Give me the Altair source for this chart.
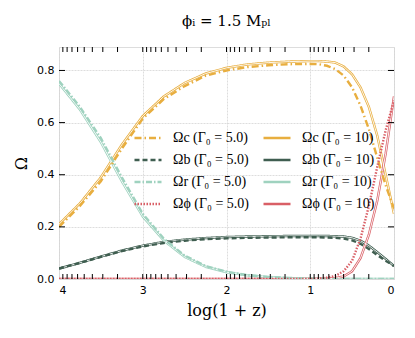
import altair as alt
import pandas as pd

# log(1+z) sample positions
x_vals = [4.0, 3.75, 3.5, 3.25, 3.0, 2.75, 2.5, 2.25, 2.0, 1.75, 1.5, 1.25, 1.0,
          0.9, 0.8, 0.7, 0.6, 0.5, 0.4, 0.3, 0.2, 0.1, 0.0]

# Gamma_0 = 5.0
omega_c_5 = [0.20, 0.28, 0.375, 0.50, 0.615, 0.69, 0.74, 0.78, 0.80, 0.813, 0.82, 0.824, 0.825,
             0.824, 0.818, 0.805, 0.78, 0.735, 0.665, 0.575, 0.465, 0.36, 0.27]
omega_b_5 = [0.04, 0.062, 0.085, 0.107, 0.125, 0.138, 0.147, 0.153, 0.156, 0.158, 0.159, 0.16, 0.16,
             0.16, 0.159, 0.158, 0.155, 0.148, 0.135, 0.115, 0.092, 0.07, 0.05]
omega_r_5 = [0.76, 0.66, 0.54, 0.39, 0.25, 0.155, 0.09, 0.05, 0.028, 0.015, 0.008, 0.004, 0.002,
             0.001, 0.001, 0.0, 0.0, 0.0, 0.0, 0.0, 0.0, 0.0, 0.0]
omega_p_5 = [0.0, 0.0, 0.0, 0.0, 0.0, 0.0, 0.0, 0.0, 0.0, 0.0, 0.0, 0.0, 0.0,
             0.002, 0.005, 0.012, 0.03, 0.07, 0.155, 0.28, 0.43, 0.57, 0.685]

# Gamma_0 = 10
omega_c_10 = [0.21, 0.29, 0.39, 0.515, 0.625, 0.70, 0.752, 0.788, 0.81, 0.823, 0.83, 0.834, 0.836,
              0.836, 0.834, 0.83, 0.815, 0.785, 0.735, 0.66, 0.55, 0.40, 0.25]
omega_b_10 = [0.04, 0.062, 0.086, 0.109, 0.128, 0.142, 0.151, 0.157, 0.161, 0.163, 0.164, 0.165, 0.165,
              0.165, 0.165, 0.164, 0.163, 0.158, 0.147, 0.128, 0.103, 0.077, 0.05]
omega_r_10 = [0.75, 0.65, 0.525, 0.375, 0.24, 0.148, 0.085, 0.047, 0.026, 0.014, 0.007, 0.003, 0.001,
              0.001, 0.0, 0.0, 0.0, 0.0, 0.0, 0.0, 0.0, 0.0, 0.0]
omega_p_10 = [0.0, 0.0, 0.0, 0.0, 0.0, 0.0, 0.0, 0.0, 0.0, 0.0, 0.0, 0.0, 0.0,
              0.0, 0.001, 0.003, 0.01, 0.03, 0.08, 0.17, 0.30, 0.48, 0.70]

labels5 = ["Ωc (Γ₀ = 5.0)", "Ωb (Γ₀ = 5.0)", "Ωr (Γ₀ = 5.0)", "Ωϕ (Γ₀ = 5.0)"]
labels10 = ["Ωc (Γ₀ = 10)", "Ωb (Γ₀ = 10)", "Ωr (Γ₀ = 10)", "Ωϕ (Γ₀ = 10)"]
labels = labels5 + labels10
colors = ["#E8AE3F", "#3F5E50", "#9FD2BF", "#D95F66",
          "#E8AE3F", "#3F5E50", "#9FD2BF", "#D95F66"]
dashes = [[7, 3, 1.5, 3], [5, 3], [6, 2, 1.5, 2], [1.5, 1.5],
          [1, 0], [1, 0], [1, 0], [1, 0]]
widths = [2.4, 2.4, 2.4, 2.6, 2.7, 2.7, 2.7, 2.7]

x_minor = [0.301, 0.477, 0.602, 0.699, 0.778, 0.845, 0.903, 0.954,
           1.0, 1.301, 1.477, 1.602, 1.699, 1.778, 1.845, 1.903, 1.954,
           2.0, 2.301, 2.477, 2.602, 2.699, 2.778, 2.845, 2.903, 2.954,
           3.0, 3.301, 3.477, 3.602, 3.699, 3.778, 3.845, 3.903, 3.954]
y_major = [0.2, 0.4, 0.6, 0.8]

rows = []
series5 = [omega_c_5, omega_b_5, omega_r_5, omega_p_5]
series10 = [omega_c_10, omega_b_10, omega_r_10, omega_p_10]
for i in range(4):
    for xv, v in zip(x_vals, series10[i]):
        rows.append({"x": xv, "v": v, "key": labels10[i], "g": "10"})
    for xv, v in zip(x_vals, series5[i]):
        rows.append({"x": xv, "v": v, "key": labels5[i], "g": "5"})
df = pd.DataFrame(rows)
df10 = df[df.g == "10"]
df5 = df[df.g == "5"]

W, H = 335, 232
xs = alt.Scale(domain=[0, 4], reverse=True, nice=False)
ys = alt.Scale(domain=[0, 0.89], nice=False, zero=False)

xax = alt.Axis(values=[0, 1, 2, 3, 4], format="d", title="log(1 + z)", ticks=False,
               domain=False, labelFont="DejaVu Sans", labelFontSize=11, labelPadding=5,
               titleFont="DejaVu Serif", titleFontSize=16, titleFontWeight="normal",
               titlePadding=7, gridColor="#d4d4d4", gridDash=[2, 1], gridWidth=0.8,
               labelColor="#000", titleColor="#000")
yax = alt.Axis(values=[0, 0.2, 0.4, 0.6, 0.8], format=".1f", title="Ω", ticks=False,
               domain=False, labelFont="DejaVu Sans", labelFontSize=11, labelPadding=5,
               titleFont="DejaVu Serif", titleFontSize=16, titleFontWeight="normal",
               titlePadding=7, gridColor="#d4d4d4", gridDash=[2, 1], gridWidth=0.8,
               labelColor="#000", titleColor="#000")

legend = alt.Legend(orient="none", legendX=74, legendY=76, columns=2, title=None,
                    symbolType="stroke", symbolSize=729,
                    labelFont="Liberation Serif", labelFontSize=14,
                    labelColor="#000", labelLimit=200, labelOffset=10,
                    columnPadding=9, rowPadding=-6)

cscale = alt.Scale(domain=labels, range=colors)
dscale = alt.Scale(domain=labels, range=dashes)
wscale = alt.Scale(domain=labels, range=widths)

solid = alt.Chart(df10).mark_line(clip=True).encode(
    x=alt.X("x:Q", scale=xs, axis=xax),
    y=alt.Y("v:Q", scale=ys, axis=yax),
    color=alt.Color("key:N", scale=cscale, legend=legend),
    strokeDash=alt.StrokeDash("key:N", scale=dscale, legend=legend),
    strokeWidth=alt.StrokeWidth("key:N", scale=wscale, legend=legend),
)
core = alt.Chart(df10).mark_line(strokeWidth=0.9, stroke="white", clip=True).encode(
    x=alt.X("x:Q", scale=xs), y=alt.Y("v:Q", scale=ys), detail="key:N")
dashed = alt.Chart(df5).mark_line(clip=True).encode(
    x=alt.X("x:Q", scale=xs), y=alt.Y("v:Q", scale=ys),
    color=alt.Color("key:N", scale=cscale, legend=legend),
    strokeDash=alt.StrokeDash("key:N", scale=dscale, legend=legend),
    strokeWidth=alt.StrokeWidth("key:N", scale=wscale, legend=legend),
)

tdf = pd.DataFrame({"x": x_minor})
ydf = pd.DataFrame({"y": y_major})
top_t = alt.Chart(tdf).mark_rule(color="black", strokeWidth=1).encode(
    x=alt.X("x:Q", scale=xs), y=alt.value(0), y2=alt.value(5))
bot_t = alt.Chart(tdf).mark_rule(color="black", strokeWidth=1).encode(
    x=alt.X("x:Q", scale=xs), y=alt.value(H - 5), y2=alt.value(H))
left_t = alt.Chart(ydf).mark_rule(color="black", strokeWidth=1).encode(
    y=alt.Y("y:Q", scale=ys), x=alt.value(0), x2=alt.value(6))
right_t = alt.Chart(ydf).mark_rule(color="black", strokeWidth=1).encode(
    y=alt.Y("y:Q", scale=ys), x=alt.value(W - 6), x2=alt.value(W))

chart = alt.layer(solid, core, dashed, top_t, bot_t, left_t, right_t).properties(
    width=W, height=H,
    title=alt.Title("ϕᵢ = 1.5 Mₚₗ", font="DejaVu Serif", fontSize=15, fontWeight="normal",
                    color="#000", offset=18),
).configure_view(stroke="#b5b5b5", strokeWidth=1.6).configure(background="white")

chart.save("out.html", embed_options={"renderer": "svg", "actions": False})
